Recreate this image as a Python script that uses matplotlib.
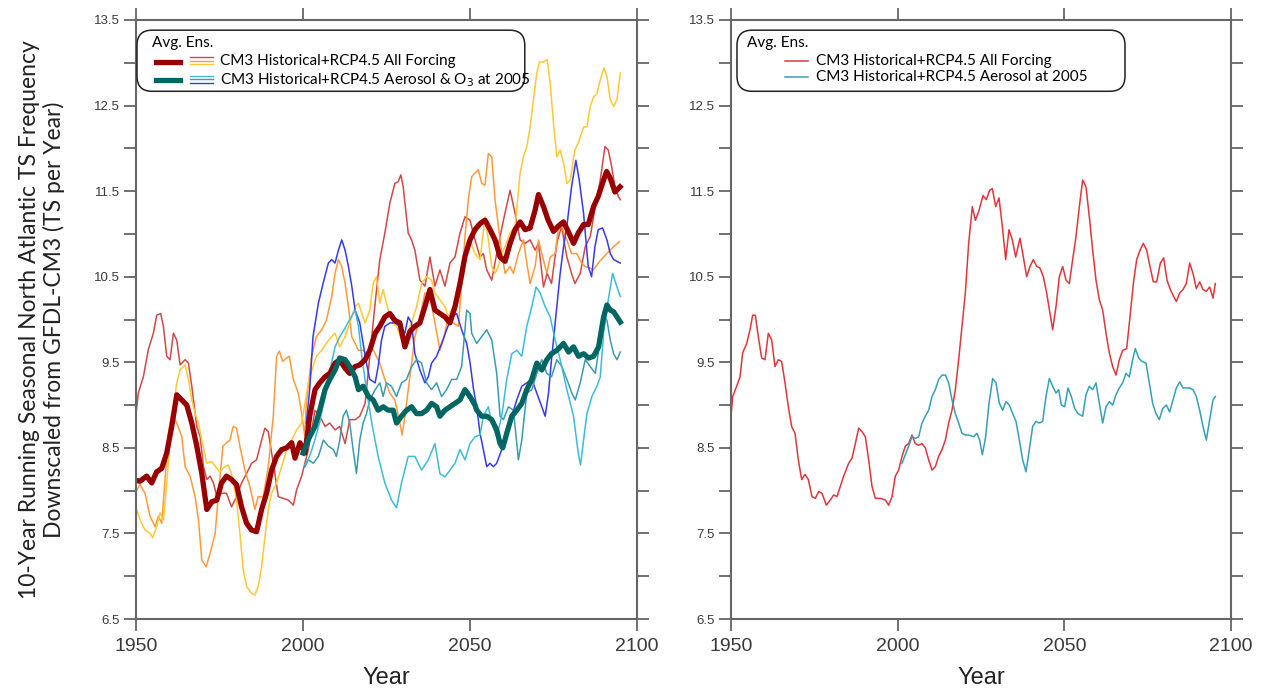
import matplotlib
matplotlib.use("Agg")
import matplotlib.pyplot as plt
from matplotlib.patches import FancyBboxPatch
from matplotlib.lines import Line2D

# ---- data (year, storms per year) ----
# all forcing ensemble members
af_red_yr = [1950, 1950.7, 1952.2, 1953.7, 1955.2, 1956.2, 1957.4, 1958.2, 1959.2, 1960.2, 1961.2, 1962.2, 1963.2,
             1964.7, 1965.7, 1966.7, 1968.2, 1969.2, 1970.2, 1971.2, 1972.2, 1973.2, 1974.2, 1975.6, 1977.1, 1978.6,
             1980.1, 1981.6, 1983.1, 1984.6, 1986.1, 1987.6, 1988.6, 1989.6, 1991.1, 1992.6, 1994.1, 1995.6, 1997.1,
             1998.1, 1999.6, 2001.6, 2003.6, 2005, 2006.6, 2008, 2009.6, 2011, 2012.6, 2014, 2015.6, 2017, 2018.6,
             2020, 2021.6, 2023, 2024.5, 2026, 2027.5, 2028.5, 2029.3, 2030, 2031.5, 2032.5, 2033.5, 2035, 2036.5,
             2038, 2039.5, 2041, 2042.5, 2044, 2045.5, 2047, 2048.5, 2050, 2051.5, 2053, 2054, 2055, 2056.5, 2058,
             2060, 2062, 2063.5, 2065, 2066.5, 2068, 2069.5, 2070.5, 2072, 2073.1, 2074.4, 2076, 2077.4, 2079,
             2080.4, 2081.4, 2083, 2084.5, 2086, 2087.5, 2089, 2090.4, 2091.4, 2092.4, 2093.4, 2094.4, 2095]
af_red = [8.9, 9.14, 9.33, 9.65, 9.84, 10.05, 10.07, 9.92, 9.57, 9.53, 9.84, 9.76, 9.47,
          9.53, 9.49, 9.22, 8.75, 8.63, 8.28, 8.13, 8.17, 8.09, 7.93, 7.97, 7.97, 7.81,
          7.93, 8.09, 8.2, 8.32, 8.36, 8.59, 8.73, 8.69, 8.32, 7.93, 7.91, 7.89, 7.83,
          8.01, 8.17, 8.48, 8.94, 8.87, 8.75, 8.79, 8.71, 8.75, 8.55, 8.83, 8.83, 8.87, 9.02,
          9.57, 10.19, 10.7, 11.01, 11.36, 11.59, 11.61, 11.69, 11.55, 11.01, 10.93, 10.81, 10.46, 10.39,
          10.73, 10.39, 10.58, 10.39, 10.66, 10.73, 11.01, 11.2, 11.16, 10.93, 10.73, 10.77, 10.58, 10.46, 10.77,
          11.16, 11.51, 11.24, 10.93, 10.89, 10.93, 10.81, 10.89, 10.38, 10.54, 10.42, 10.89, 11.09, 10.73,
          10.54, 10.42, 10.54, 10.85, 10.97, 11.32, 11.63, 12.02, 11.98, 11.79, 11.55, 11.44, 11.4]

af_orange_yr = [1950, 1951.2, 1952.7, 1954.2, 1955.7, 1956.7, 1957.7, 1958.7, 1959.7, 1960.7, 1962.2, 1963.7,
                1964.7, 1966.2, 1967.7, 1968.7, 1969.7, 1971, 1972.2, 1973.7, 1974.7, 1976, 1977.1, 1978.1, 1979.1,
                1980.1, 1981.1, 1982.6, 1984.1, 1985.6, 1986.6, 1988.1, 1989.6, 1991.1, 1992.1, 1992.9, 1993.9,
                1995.1, 1995.9, 1997.1, 1998.6, 1999.6, 2000.5, 2001, 2002.6, 2004, 2005.6, 2007, 2008.6, 2009.6,
                2010.6, 2011.6, 2012.6, 2013.6, 2014.6, 2015.6, 2016.6, 2018, 2019.6, 2020.6, 2021.6, 2023, 2024.5,
                2026, 2027.5, 2029, 2029.7, 2030.5, 2032, 2033.5, 2035, 2036.5, 2038, 2039.5, 2041, 2042, 2043.5,
                2045, 2046.5, 2047.5, 2048.5, 2049.5, 2050.5, 2052.5, 2053.5, 2054.5, 2055.5, 2056.5, 2057.5,
                2058.5, 2059.5, 2060.5, 2062, 2063, 2064.5, 2066, 2067, 2068, 2069.5, 2070.5, 2071.5, 2073, 2074,
                2075.5, 2076.4, 2077.4, 2079, 2080.4, 2082, 2083.4, 2084.4, 2086, 2087, 2088.4, 2090, 2091.4, 2093,
                2094.7]
af_orange = [7.99, 8.07, 7.97, 7.7, 7.58, 7.7, 7.62, 8.13, 8.67, 8.9, 8.79, 8.63,
             8.28, 8.17, 7.93, 7.66, 7.19, 7.11, 7.27, 7.5, 7.97, 8.52, 8.56, 8.59, 8.75,
             8.73, 8.52, 8.24, 8.05, 7.78, 7.93, 7.93, 8.28, 8.87, 9.57, 9.63, 9.51,
             9.55, 9.57, 9.3, 9.14, 8.9, 8.65, 9.02, 9.57, 9.8, 9.88, 9.99, 10.27, 10.54,
             10.7, 10.62, 10.42, 10.15, 9.8, 9.72, 9.64, 9.64, 9.57, 9.68, 9.6, 9.49, 9.3,
             9.14, 9.06, 8.79, 8.65, 8.87, 9.33, 9.8, 10.03, 10.31, 10.27, 9.96, 9.64, 9.76, 10.03,
             9.96, 9.92, 10.42, 10.97, 11.4, 11.67, 11.75, 11.59, 11.57, 11.94, 11.9, 11.4,
             11.09, 10.77, 10.54, 10.62, 10.54, 10.77, 10.93, 10.66, 10.42, 10.62, 10.93, 10.77, 10.54, 10.73,
             10.77, 11.05, 11.09, 10.93, 10.77, 10.77, 10.66, 10.62, 10.6, 10.58, 10.66, 10.73, 10.79, 10.85,
             10.91]

af_gold_yr = [1950, 1951.2, 1952.7, 1954.2, 1955, 1956.2, 1957.2, 1958.2, 1959.2, 1960.2, 1961.2, 1962.2,
              1963.2, 1964.7, 1965.7, 1966.7, 1967.7, 1968.7, 1969.7, 1971.2, 1972.7, 1974.2, 1975.1, 1976.6,
              1977.6, 1978.6, 1980.1, 1981.1, 1982.1, 1983.1, 1984.6, 1985.6, 1986.6, 1987.6, 1988.6, 1989.6,
              1990.6, 1992.1, 1993.6, 1995.1, 1996.6, 1998.1, 1999.6, 2001.6, 2003, 2004, 2005.6, 2007, 2008.6,
              2009.6, 2011, 2012.6, 2014, 2015.6, 2016.6, 2017.6, 2018.6, 2020, 2021, 2022, 2023, 2024, 2025.5,
              2027, 2028, 2029.5, 2031, 2032.5, 2034, 2035.5, 2037, 2038.5, 2039.5, 2041, 2042.5, 2043.5, 2045,
              2046.5, 2048, 2049, 2050, 2051.5, 2053, 2054.5, 2055.5, 2056.5, 2057.5, 2058.5, 2059.5, 2060.5,
              2062, 2063.5, 2065, 2066, 2067, 2068, 2069, 2070, 2070.8, 2072, 2073.1, 2074, 2075, 2076, 2077,
              2078, 2079, 2080, 2081.4, 2082.4, 2084, 2085, 2086, 2087, 2088, 2089, 2090.1, 2091, 2092, 2093,
              2094, 2095]
af_gold = [7.8, 7.66, 7.54, 7.5, 7.45, 7.58, 7.74, 7.66, 8.09, 8.59, 8.98, 9.26,
           9.41, 9.47, 9.3, 9.06, 8.9, 8.79, 8.59, 8.32, 8.34, 8.26, 8.22, 8.28,
           8.3, 8.2, 7.89, 7.5, 7.08, 6.88, 6.8, 6.78, 6.88, 7.11, 7.46, 7.78,
           7.97, 8.09, 8.28, 8.48, 8.59, 8.71, 8.79, 9.26, 9.45, 9.57, 9.64, 9.72, 9.8,
           9.84, 9.68, 9.8, 9.96, 10.15, 10.19, 10.07, 9.96, 10.11, 10.42, 10.5, 10.19, 10.35, 10.11,
           9.96, 9.92, 9.76, 9.8, 9.96, 10.15, 10.42, 10.5, 10.46, 10.31, 10.23, 10.15, 10.03, 10.15,
           10.23, 10.5, 10.77, 10.93, 10.77, 10.7, 11.2, 10.93, 10.62, 10.54, 10.62, 10.77, 10.85,
           11.01, 11.09, 11.71, 11.9, 12.02, 12.25, 12.57, 12.88, 13.01, 13.01, 13.04, 12.76, 12.29, 11.9, 11.98,
           11.83, 11.59, 11.63, 11.98, 12.06, 12.25, 12.25, 12.49, 12.6, 12.64, 12.8, 12.94, 12.84, 12.57, 12.49,
           12.57, 12.88]

af_avg_yr = [1950, 1951.2, 1953.2, 1954.7, 1956.2, 1957.7, 1959.2, 1960.7, 1962.2, 1963.7, 1965.2, 1966.7,
             1968.2, 1969.7, 1971.2, 1972.7, 1974.2, 1975.6, 1977.1, 1978.6, 1980.1, 1981.6, 1983.1, 1984.6,
             1986.1, 1987.6, 1989.1, 1990.6, 1992.1, 1993.6, 1995.1, 1996.6, 1997.6, 1999.1, 2000.6, 2002,
             2003.6, 2005, 2006.6, 2008, 2009.6, 2011, 2012.6, 2014, 2015.6, 2017, 2018.6, 2020, 2021.6, 2023,
             2024.5, 2026, 2027.5, 2029, 2030.5, 2032, 2033.5, 2035, 2036.5, 2038, 2039.5, 2041, 2042.5, 2044,
             2045.5, 2047, 2048.5, 2050, 2051.5, 2053, 2054.5, 2056, 2057.5, 2059, 2060.5, 2062, 2063.5, 2065,
             2066.5, 2068, 2069.5, 2070.5, 2072, 2073.4, 2075, 2076.4, 2078, 2079.4, 2081, 2082.4, 2084, 2085.4,
             2087, 2088.4, 2090, 2090.9, 2092, 2093.4, 2094.9]
af_avg = [8.12, 8.11, 8.17, 8.09, 8.22, 8.26, 8.44, 8.75, 9.12, 9.06, 9.0, 8.79,
          8.52, 8.2, 7.78, 7.87, 7.89, 8.09, 8.17, 8.13, 8.07, 7.81, 7.62, 7.54,
          7.52, 7.78, 7.97, 8.24, 8.4, 8.48, 8.5, 8.56, 8.38, 8.56, 8.44, 8.87,
          9.18, 9.26, 9.33, 9.37, 9.49, 9.53, 9.43, 9.37, 9.45, 9.47, 9.53, 9.64, 9.84, 9.92,
          10.03, 10.07, 9.99, 9.96, 9.68, 9.86, 9.92, 9.96, 10.15, 10.35, 10.11, 10.07, 10.03, 9.96,
          10.15, 10.42, 10.74, 10.93, 11.05, 11.12, 11.16, 11.05, 10.93, 10.73, 10.68, 10.89, 11.05, 11.14,
          11.05, 11.07, 11.28, 11.46, 11.32, 11.16, 11.03, 11.09, 11.14, 11.03, 10.89, 11.01, 11.11, 11.11,
          11.32, 11.44, 11.63, 11.73, 11.65, 11.49, 11.55]

# aerosol (& O3) fixed at 2005 ensemble members
aer_blue_yr = [2001, 2002, 2003, 2004.6, 2006, 2007.6, 2008.6, 2009.6, 2010.6, 2011.6, 2012.6, 2013.6, 2014.6,
               2015.6, 2017, 2018, 2019, 2020, 2021.6, 2022.5, 2023.5, 2024.5, 2026, 2027.5, 2029, 2030.5, 2031.5,
               2032.5, 2033.5, 2035, 2036.5, 2037.5, 2038.5, 2040, 2041.5, 2043, 2044.5, 2046, 2047.5, 2049, 2050,
               2051, 2052, 2053, 2054, 2055, 2056, 2057, 2058, 2059.5, 2061, 2062.5, 2064, 2065.5, 2067, 2068.5,
               2070, 2071.5, 2072.5, 2073.5, 2074.4, 2075.5, 2077, 2078, 2079, 2080.4, 2081.7, 2082.7, 2084,
               2085.4, 2086.4, 2087.4, 2088.4, 2089.7, 2091, 2092, 2093, 2095]
aer_blue = [8.79, 9.18, 9.8, 10.19, 10.42, 10.66, 10.7, 10.66, 10.81, 10.93, 10.81, 10.62, 10.39,
            10.11, 9.96, 9.72, 9.49, 9.3, 9.26, 9.45, 9.76, 9.92, 9.96, 9.96, 9.92, 9.84, 10.03,
            9.96, 9.6, 9.41, 9.26, 9.33, 9.49, 9.57, 9.72, 9.88, 10.03, 10.07, 9.88, 9.72, 9.5,
            9.2, 8.98, 8.67, 8.48, 8.28, 8.32, 8.28, 8.32, 8.48, 8.67, 8.87, 9.06, 9.22, 9.26, 9.3,
            9.14, 8.98, 8.87, 9.14, 9.53, 9.96, 10.54, 10.85, 11.09, 11.55, 11.86, 11.63, 11.24,
            10.62, 10.5, 10.85, 11.05, 11.07, 10.93, 10.77, 10.7, 10.66]

aer_teal_yr = [2000.6, 2001.6, 2003.1, 2004.6, 2006.1, 2007.6, 2009.1, 2010, 2011, 2012, 2013, 2014, 2015, 2016,
               2017, 2018, 2019, 2020, 2021.6, 2023, 2024, 2025, 2026.5, 2028, 2029.5, 2031, 2032.5, 2034, 2035.5,
               2037, 2038.5, 2040, 2041.5, 2043, 2044.5, 2046, 2047.5, 2049, 2050, 2050.5, 2052, 2053.5, 2055,
               2056.5, 2058, 2059, 2060, 2061.5, 2063, 2064.5, 2065.5, 2067, 2068.5, 2070, 2071.5, 2073, 2074.4,
               2076, 2077.5, 2079, 2080.5, 2081.5, 2083, 2084.5, 2086, 2087.5, 2089, 2090, 2091, 2092, 2093, 2094,
               2095]
aer_teal = [8.28, 8.36, 8.32, 8.4, 8.59, 8.52, 8.48, 8.4, 8.59, 8.87, 8.94, 8.79, 8.48, 8.2,
            8.59, 8.79, 8.9, 9.06, 9.18, 9.26, 9.1, 9.26, 9.22, 9.1, 9.26, 9.3, 9.45, 9.53, 9.49,
            9.26, 9.18, 9.26, 9.1, 9.18, 9.3, 9.3, 9.45, 10.11, 10.07, 9.84, 9.72, 9.8, 9.88,
            9.76, 9.37, 8.87, 8.83, 8.98, 8.94, 8.36, 8.59, 9.14, 9.18, 9.37, 9.53, 9.37, 9.33,
            9.53, 9.45, 9.3, 9.14, 9.06, 9.26, 9.53, 9.45, 9.37, 9.76, 10.07, 9.99, 9.76, 9.6, 9.53,
            9.62]

aer_cyan_yr = [2000.6, 2002, 2003.6, 2005, 2006.6, 2008, 2009.6, 2011, 2012.6, 2014, 2015.6, 2016.6, 2017.6,
               2019, 2020.6, 2022.5, 2024.5, 2026.5, 2028, 2029.5, 2031.5, 2033.5, 2035.5, 2037.5, 2039.5, 2041,
               2042.5, 2044, 2045.5, 2047, 2048.5, 2050, 2051.5, 2053, 2054, 2055.5, 2056.5, 2058, 2059.5, 2061,
               2062.5, 2064, 2065.5, 2067, 2068.5, 2069.8, 2071, 2072.5, 2074, 2075.5, 2077, 2079, 2081, 2082.4,
               2083.1, 2084, 2085, 2086.5, 2088, 2089, 2090, 2091.4, 2092.7, 2094, 2095]
aer_cyan = [8.3, 8.4, 8.6, 8.8, 9.1, 9.4, 9.68, 9.8, 9.9, 10.0, 10.11, 9.92, 9.57,
            9.18, 8.79, 8.4, 8.09, 7.89, 7.8, 8.09, 8.4, 8.4, 8.24, 8.36, 8.55, 8.2,
            8.16, 8.24, 8.32, 8.48, 8.36, 8.55, 8.63, 8.65, 8.87, 8.98, 8.79, 8.63, 8.87, 9.3,
            9.6, 9.64, 9.57, 9.92, 10.15, 10.38, 10.31, 10.15, 10.03, 9.76, 9.53, 9.18, 8.87, 8.44,
            8.3, 8.59, 8.9, 9.1, 9.22, 9.33, 9.84, 10.23, 10.54, 10.38, 10.27]

aer_avg_yr = [2000, 2002, 2003.6, 2005, 2006.6, 2008, 2009.6, 2011, 2012.6, 2014, 2015.6, 2016.6, 2018, 2019.6,
              2021, 2022.5, 2024, 2025.5, 2027, 2028, 2029.5, 2031, 2032.5, 2034, 2035.5, 2037, 2038.5, 2040,
              2041, 2042.5, 2044, 2045.5, 2047, 2048.5, 2050, 2051.5, 2052, 2053.5, 2055, 2056.5, 2058, 2059,
              2059.8, 2061, 2062.5, 2064, 2065.5, 2067, 2068.5, 2070, 2071.5, 2073, 2074.4, 2076, 2078, 2079.5,
              2081, 2082.5, 2084, 2085.5, 2087, 2088.5, 2090, 2091, 2092, 2093, 2094, 2095]
aer_avg = [8.44, 8.63, 8.75, 8.94, 9.18, 9.3, 9.41, 9.55, 9.53, 9.45, 9.33, 9.18, 9.22, 9.1,
           9.06, 8.94, 8.98, 8.94, 8.94, 8.79, 8.87, 8.94, 8.98, 8.9, 8.9, 8.94, 9.02, 8.98,
           8.87, 8.94, 8.98, 9.02, 9.06, 9.18, 9.1, 9.0, 8.94, 8.87, 8.87, 8.83, 8.71, 8.55,
           8.5, 8.67, 8.87, 8.94, 9.02, 9.18, 9.3, 9.49, 9.41, 9.53, 9.6, 9.64, 9.72, 9.62,
           9.68, 9.57, 9.6, 9.55, 9.57, 9.68, 10.03, 10.17, 10.11, 10.09, 10.03, 9.97]

# right panel: single runs
r_red_yr = [1950, 1950.5, 1951.7, 1952.7, 1953.5, 1954.7, 1955.7, 1956.5, 1957.3, 1958.2, 1959.2, 1960.2, 1961.2,
            1962.2, 1963.2, 1964.2, 1965.2, 1966.2, 1967.2, 1968.2, 1969.2, 1970.2, 1971.2, 1972.2, 1973.2, 1974.3,
            1975.3, 1976.3, 1977.3, 1978.6, 1979.8, 1980.8, 1981.8, 1982.8, 1983.8, 1985.3, 1986.3, 1987.3, 1988.3,
            1989.3, 1990.3, 1991.3, 1992.3, 1993.3, 1994.8, 1996.3, 1997.3, 1998.3, 1999.3, 2000.3, 2001.3, 2002.3,
            2003.3, 2004.3, 2005.3, 2006.3, 2007.3, 2008.3, 2009.3, 2010.3, 2011.3, 2012.3, 2013.3, 2014.3, 2015.3,
            2016.3, 2017.3, 2018.3, 2019.3, 2020.3, 2021.3, 2022.4, 2023.3, 2024.3, 2025.6, 2026.6, 2027.6, 2028.4,
            2029.4, 2030.4, 2031.4, 2032.4, 2033.4, 2034.4, 2035.4, 2036.7, 2037.7, 2038.7, 2039.7, 2040.7, 2041.7,
            2042.7, 2043.7, 2044.7, 2045.7, 2046.5, 2047.5, 2048.5, 2049.5, 2050.5, 2051.5, 2052.5, 2053.5, 2054.5,
            2055.5, 2056.5, 2057.5, 2058.5, 2059.5, 2060.5, 2061.5, 2062.5, 2063.5, 2064.5, 2065.5, 2066.5, 2067.5,
            2068.7, 2069.7, 2070.7, 2071.7, 2072.7, 2073.7, 2074.7, 2075.7, 2076.7, 2077.7, 2078.8, 2079.8, 2080.8,
            2081.8, 2082.8, 2083.6, 2084.6, 2085.6, 2086.6, 2087.6, 2088.6, 2089.6, 2090.6, 2091.6, 2092.6, 2093.6,
            2094.6, 2095.3]
r_red = [8.87, 9.1, 9.22, 9.33, 9.61, 9.72, 9.88, 10.05, 10.05, 9.8, 9.55, 9.53, 9.84,
         9.76, 9.45, 9.53, 9.51, 9.26, 8.98, 8.75, 8.67, 8.36, 8.13, 8.19, 8.13, 7.93,
         7.91, 7.99, 7.97, 7.83, 7.89, 7.95, 7.93, 8.05, 8.17, 8.32, 8.38, 8.55, 8.73,
         8.69, 8.63, 8.36, 8.05, 7.91, 7.91, 7.89, 7.83, 7.93, 8.17, 8.24, 8.4, 8.52,
         8.55, 8.65, 8.55, 8.53, 8.55, 8.5, 8.36, 8.24, 8.28, 8.4, 8.48, 8.59, 8.79,
         8.94, 9.18, 9.53, 9.92, 10.31, 10.89, 11.32, 11.16, 11.26, 11.45, 11.4, 11.51, 11.53,
         11.32, 11.42, 11.09, 10.7, 11.05, 10.93, 10.73, 10.95, 10.73, 10.5, 10.62, 10.7, 10.62,
         10.6, 10.5, 10.31, 10.07, 9.88, 10.15, 10.5, 10.62, 10.46, 10.42, 10.7, 10.97, 11.32,
         11.63, 11.55, 11.2, 10.81, 10.46, 10.23, 10.11, 9.84, 9.61, 9.45, 9.35, 9.53, 9.64,
         9.66, 10.03, 10.42, 10.7, 10.81, 10.89, 10.81, 10.62, 10.44, 10.44, 10.66, 10.72, 10.46,
         10.35, 10.27, 10.21, 10.31, 10.35, 10.42, 10.66, 10.54, 10.36, 10.44, 10.35, 10.33, 10.38,
         10.25, 10.42]

r_teal_yr = [2001.3, 2002.3, 2003.3, 2004.3, 2005.3, 2006.3, 2007.3, 2008.3, 2009.3, 2010.3, 2011.3, 2012.3,
             2013.3, 2014.3, 2015.3, 2016.3, 2017.3, 2018.3, 2019.3, 2020.3, 2021.3, 2022.8, 2023.8, 2024.6,
             2025.4, 2026.4, 2027.4, 2028.5, 2029.5, 2030.5, 2031.5, 2032.5, 2033.5, 2034.5, 2035.5, 2036.5,
             2037.5, 2038.5, 2039.5, 2040.5, 2041.5, 2042.5, 2043.5, 2044.5, 2045.5, 2046.5, 2047.5, 2048.3,
             2049.1, 2050.1, 2051.1, 2052.1, 2053.1, 2054.1, 2055.5, 2056.5, 2057.5, 2058.5, 2059.5, 2060.5,
             2061.5, 2062.5, 2063.5, 2064.5, 2065.5, 2066.5, 2067.5, 2068.5, 2069.5, 2070.5, 2071.3, 2072.3,
             2073.3, 2074.5, 2075.5, 2076.5, 2077.5, 2078.5, 2079.5, 2080.6, 2081.6, 2082.6, 2083.6, 2084.6,
             2085.6, 2086.6, 2087.6, 2088.6, 2089.6, 2090.6, 2091.6, 2092.6, 2093.6, 2094.6, 2095.3]
r_teal = [8.32, 8.42, 8.52, 8.63, 8.61, 8.63, 8.79, 8.87, 8.94, 9.1, 9.18, 9.3,
          9.35, 9.35, 9.26, 9.06, 8.9, 8.79, 8.67, 8.65, 8.65, 8.63, 8.67, 8.59,
          8.42, 8.63, 9.02, 9.31, 9.26, 9.02, 8.94, 9.04, 9.0, 8.9, 8.81, 8.59,
          8.36, 8.22, 8.48, 8.75, 8.81, 8.79, 8.81, 9.1, 9.31, 9.22, 9.14, 9.18,
          9.0, 8.98, 9.2, 9.1, 8.96, 8.9, 8.87, 9.12, 9.22, 9.18, 9.26, 9.02,
          8.79, 8.98, 9.04, 9.0, 9.12, 9.2, 9.26, 9.37, 9.33, 9.53, 9.66, 9.55,
          9.51, 9.49, 9.26, 9.02, 8.9, 8.83, 8.96, 9.0, 8.92, 9.06, 9.2, 9.27,
          9.2, 9.2, 9.2, 9.18, 9.1, 8.94, 8.75, 8.59, 8.83, 9.06, 9.1]

yticks = [6.5, 7.5, 8.5, 9.5, 10.5, 11.5, 12.5, 13.5]
xticks = [1950, 2000, 2050, 2100]

legend_all = "CM3 Historical+RCP4.5 All Forcing"
legend_aer_left = "CM3 Historical+RCP4.5 Aerosol & O$_3$ at 2005"
legend_aer_right = "CM3 Historical+RCP4.5 Aerosol at 2005"

# ---- styling ----
c_red, c_orange, c_gold = "#d24848", "#ff9a3c", "#ffc933"
c_blue, c_teal, c_cyan = "#3838f0", "#3a9cae", "#3cbcdc"
c_avg_af, c_avg_aer = "#990000", "#006661"
c_r_red, c_r_teal = "#e0363c", "#34a0b6"
spine_c = "#666666"
narrow = ["Liberation Sans Narrow", "Liberation Sans", "DejaVu Sans"]
humanist = ["Lato", "Open Sans", "DejaVu Sans"]

fig = plt.figure(figsize=(12.7, 6.96), dpi=100)
ax1 = fig.add_axes([136 / 1270, 77 / 696, 501 / 1270, 599 / 696])
ax2 = fig.add_axes([731 / 1270, 77 / 696, 500 / 1270, 599 / 696])

thin = 1.1
ax1.plot(af_red_yr, af_red, color=c_red, lw=thin)
ax1.plot(af_orange_yr, af_orange, color=c_orange, lw=thin)
ax1.plot(af_gold_yr, af_gold, color=c_gold, lw=thin)
ax1.plot(aer_blue_yr, aer_blue, color=c_blue, lw=thin)
ax1.plot(aer_teal_yr, aer_teal, color=c_teal, lw=thin)
ax1.plot(aer_cyan_yr, aer_cyan, color=c_cyan, lw=thin)
ax1.plot(af_avg_yr, af_avg, color=c_avg_af, lw=3.8, solid_joinstyle="round")
ax1.plot(aer_avg_yr, aer_avg, color=c_avg_aer, lw=3.8, solid_joinstyle="round")

ax2.plot(r_red_yr, r_red, color=c_r_red, lw=1.1)
ax2.plot(r_teal_yr, r_teal, color=c_r_teal, lw=1.1)

for ax in (ax1, ax2):
    ax.set_xlim(1950, 2100)
    ax.set_ylim(6.5, 13.5)
    ax.set_xticks(xticks)
    ax.set_yticks(yticks)
    ax.set_yticks([v + 0.5 for v in yticks[:-1]], minor=True)
    for s in ax.spines.values():
        s.set_color(spine_c)
        s.set_linewidth(1.5)
    ax.tick_params(which="both", direction="out", length=8.5, width=1.3, color=spine_c,
                   top=True, right=True)
    ax.tick_params(axis="x", pad=5, labelsize=14, labelcolor="#3a3a3a")
    ax.tick_params(axis="y", pad=3, labelsize=9.5, labelcolor="#3a3a3a")
    for lab in ax.get_xticklabels() + ax.get_yticklabels():
        lab.set_family(narrow)
    ax.set_xlabel("Year", fontsize=17, family=narrow, color="#222222", labelpad=9)


def legend_box(ax, x0, x1):
    box = FancyBboxPatch((x0, 0.881), x1 - x0, 0.102, boxstyle="round,pad=0,rounding_size=0.03",
                         transform=ax.transAxes, facecolor="white", edgecolor="#222222", lw=1.1,
                         mutation_aspect=501 / 599, zorder=5)
    ax.add_patch(box)
    ax.text(0.032, 0.961, "Avg. Ens.", transform=ax.transAxes, fontsize=11, family=humanist,
            va="center", ha="left", zorder=6)


# left legend
legend_box(ax1, 0.002, 0.776)
for y, c in [(0.930, c_avg_af), (0.900, c_avg_aer)]:
    ax1.add_line(Line2D([0.04, 0.088], [y, y], transform=ax1.transAxes, color=c, lw=3.8, zorder=6))
for y, c in [(0.938, c_red), (0.932, c_orange), (0.926, c_gold),
             (0.907, c_cyan), (0.901, c_teal), (0.895, c_blue)]:
    ax1.add_line(Line2D([0.108, 0.154], [y, y], transform=ax1.transAxes, color=c, lw=1.0, zorder=6))
ax1.text(0.168, 0.931, legend_all, transform=ax1.transAxes, fontsize=11, family=humanist,
         va="center", zorder=6)
ax1.text(0.168, 0.900, legend_aer_left, transform=ax1.transAxes, fontsize=11, family=humanist,
         va="center", zorder=6)

# right legend
legend_box(ax2, 0.012, 0.788)
ax2.add_line(Line2D([0.108, 0.154], [0.932, 0.932], transform=ax2.transAxes, color=c_r_red, lw=1.1, zorder=6))
ax2.add_line(Line2D([0.108, 0.154], [0.905, 0.905], transform=ax2.transAxes, color=c_r_teal, lw=1.1, zorder=6))
ax2.text(0.17, 0.932, legend_all, transform=ax2.transAxes, fontsize=11, family=humanist,
         va="center", zorder=6)
ax2.text(0.17, 0.905, legend_aer_right, transform=ax2.transAxes, fontsize=11, family=humanist,
         va="center", zorder=6)

fig.text(42 / 1270, 376 / 696,
         "10-Year Running Seasonal North Atlantic TS Frequency\nDownscaled from GFDL-CM3 (TS per Year)",
         rotation=90, ha="center", va="center", fontsize=16.5, family=humanist, color="#222222",
         linespacing=1.2)

fig.savefig("out.png", dpi=100)
